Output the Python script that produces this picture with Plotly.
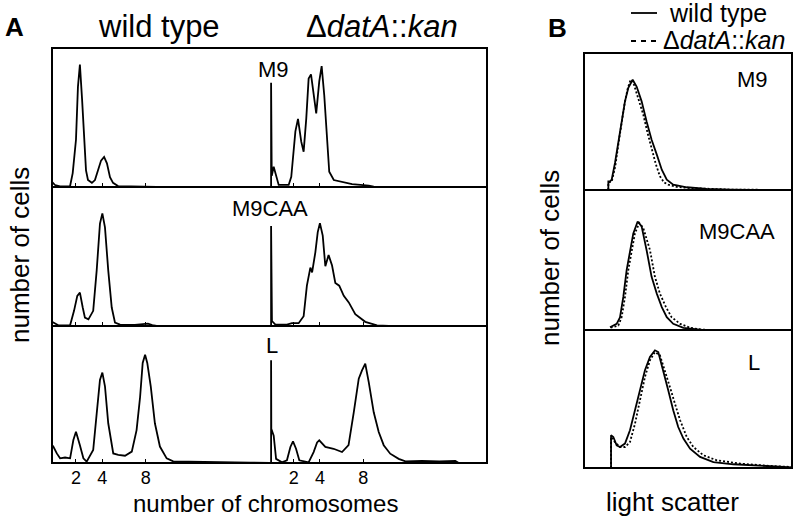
import plotly.graph_objects as go

# ---------------- DATA ----------------
# Panel A: DNA content histograms, x in relative channel units (0-100), y relative counts (0-100)
wt_m9_x = [0, 1.4, 3.7, 8.3, 9.5, 11, 11.9, 12.8, 13.8, 14.7, 15.6, 16.5, 18.3, 19.7, 21.1, 22.5, 23.9, 25.2, 26.6, 28, 30.3, 35, 40, 45, 48, 100]
wt_m9_y = [3.6, 1.4, 0.4, 0.7, 10, 34, 72, 88, 63, 32, 12, 5, 3, 5, 12, 19, 21.6, 17, 7, 3, 0.7, 0.5, 0.8, 0.5, 0, 0]

mu_m9_x = [0.5, 0.5, 0.8, 1.7, 3.2, 4, 8.6, 9.8, 11.7, 12.9, 14.4, 15.5, 16.7, 17.8, 18.9, 20.1, 21.3, 22.7, 23.8, 25, 26.3, 27.3, 29.4, 33.2, 37.8, 45.5, 47.8, 100]
mu_m9_y = [0, 75, 8, 14.6, 6.5, 1.5, 1.5, 7.4, 40, 49, 32.6, 25.4, 49, 78, 81, 66, 53, 76, 87, 66, 32.6, 11, 5, 3.4, 2, 1, 0.3, 0]

wt_caa_x = [0, 0.6, 2.9, 8.3, 10.1, 11.6, 12.8, 14.1, 15.1, 16.7, 18.9, 20.5, 22, 23.1, 24.3, 25.8, 27.4, 28.9, 31.2, 38, 44, 46, 48, 100]
wt_caa_y = [3, 2.4, 0.5, 0.5, 10.9, 21.7, 24, 13.3, 6, 4.8, 10.9, 40, 73.7, 81, 71, 40, 13.3, 2.4, 1, 0.8, 1.7, 0.6, 0, 0]

mu_caa_x = [0.5, 0.5, 0.9, 2.5, 7.8, 10.1, 13.2, 15.5, 17, 18.6, 19.4, 20.9, 22, 23, 24.3, 25.5, 27, 28.6, 30.1, 31.9, 34, 36.3, 39.3, 43.9, 49.3, 54.7, 100]
mu_caa_y = [0, 72, 3.6, 1, 1, 2, 2, 7, 29, 42, 38.6, 53, 67.6, 74, 65, 43, 51, 43.5, 31, 29, 21.7, 17, 8.5, 3, 0.5, 0, 0]

wt_l_x = [0, 0.6, 2.2, 3.7, 6, 8.3, 9.8, 11, 12.8, 14.4, 15.9, 18.9, 20.5, 22, 23.1, 24.3, 25.8, 28.1, 30.4, 33.5, 36.6, 38.8, 40.4, 41.6, 42.7, 43.7, 45.3, 47.2, 49.5, 52.6, 55.6, 70, 87.7, 91, 100]
wt_l_y = [13, 12, 7, 3.4, 4, 3.4, 16.8, 22.8, 13, 3.4, 1, 9.5, 36, 60.6, 66, 56, 29, 7, 6, 5.3, 8.3, 24, 48, 73, 79, 73, 56, 29, 12, 3.4, 1.2, 1, 0.8, 0.3, 0]

mu_l_x = [0.5, 0.5, 0.6, 1.7, 2.8, 5.5, 7.8, 9.4, 10.6, 12, 13.5, 17.8, 20.1, 21.7, 22.7, 25.5, 29.3, 33.2, 36.2, 38.6, 40.9, 42.4, 43.9, 45.5, 47.8, 50.1, 52.4, 55.4, 59.3, 62.4, 70, 78, 85.4, 87, 100]
mu_l_y = [0, 75, 25, 20, 3, 0.5, 2, 11.7, 15.8, 10.4, 2, 0.5, 8, 15, 16.5, 11.7, 10.4, 8, 13, 37, 61.5, 67.6, 72.5, 59, 37, 22.6, 13, 6.8, 3, 1.2, 1.5, 1.2, 1.5, 0, 0]

chrom_tickvals = [11, 23, 43]
chrom_ticktext = ["2", "4", "8"]

# Panel B: light scatter histograms
b_m9_wt_x = [11.7, 11.7, 12.5, 13.3, 14.9, 16.5, 18.1, 19.7, 21.3, 23.4, 25.3, 27.7, 30.1, 32.5, 35, 37.4, 39.8, 42.9, 49.4, 59, 70.2, 80, 100]
b_m9_wt_y = [0, 6.3, 6.3, 7.5, 19.7, 35.5, 50, 64.7, 74.5, 80.5, 75.5, 64.7, 50, 36.7, 25.8, 14.8, 7.5, 3.9, 2, 0.8, 0.3, 0, 0]
b_m9_mu_x = [11.7, 11.7, 13.3, 15, 16.5, 18, 19.5, 21, 22.4, 24, 26, 28.5, 30.5, 32.5, 34.5, 36.5, 38.5, 40.5, 45, 50, 58, 70, 100]
b_m9_mu_y = [0, 5.5, 6, 17, 33, 49, 63, 74, 80.5, 77, 67, 55, 42, 30.6, 19, 10, 5.5, 3.9, 2.2, 1.5, 0.8, 0.3, 0]

b_caa_wt_x = [12.5, 15.7, 17.3, 18.9, 20.5, 22.1, 23.7, 25.8, 27.7, 30.1, 32.5, 35, 37.4, 39.8, 42.9, 47.8, 52.6, 57, 100]
b_caa_wt_y = [2, 4.4, 9, 23.6, 42.8, 57, 69, 77.5, 74, 57, 38, 26, 16.4, 9.2, 4.4, 1.5, 0.5, 0, 0]
b_caa_mu_x = [12.8, 16.5, 18.1, 19.7, 21.3, 22.9, 24.5, 26.6, 28.5, 31.7, 34.1, 36.5, 39.4, 42.1, 46.2, 51, 55.8, 60.6, 100]
b_caa_mu_y = [1.6, 3.2, 9.2, 23.6, 42.8, 57.2, 69.2, 76.4, 72.8, 57.2, 38, 26, 16.4, 9.2, 4.4, 1.6, 0.4, 0, 0]

b_l_wt_x = [13, 13, 14.1, 15.7, 17.3, 19.7, 22.1, 24.5, 26.9, 29.3, 31.7, 34.1, 35.7, 38.1, 40.5, 42.9, 45.3, 47.8, 51, 55.8, 62.2, 71.8, 83, 94, 100]
b_l_wt_y = [0, 23.7, 22.5, 16.4, 15.2, 17.7, 27.3, 41.8, 56.3, 70.8, 80.4, 85.3, 84, 70.8, 56.3, 41.8, 29.7, 21.3, 14, 8, 4.3, 2.7, 1.7, 0.8, 0.5]
b_l_mu_x = [13, 13, 14.9, 17.3, 19.7, 22.1, 24.5, 26.9, 29.3, 31.7, 34.1, 36.5, 38.9, 41.3, 43.7, 46.2, 49.4, 52.6, 57.4, 63.8, 75, 91, 100]
b_l_mu_y = [0, 22.5, 18.8, 15.2, 15.2, 18.8, 32, 49, 66, 78, 84, 81.7, 70.8, 58.7, 46.7, 34.6, 22.5, 15.2, 9.2, 5.6, 3.2, 1.3, 0.8]

row_labels = ["M9", "M9CAA", "L"]

# ---------------- LAYOUT ----------------
W, H = 800, 518
FONT = "Liberation Sans, Arial, Helvetica, sans-serif"


def px(x):
    return x / W


def py(y):
    return 1 - y / H


A_L, A_MID, A_R = 52, 270, 487
A_ROWS = [(48, 187), (187, 326), (326, 463)]
B_L, B_R = 584, 792
B_ROWS = [(53, 190), (190, 330), (330, 468)]

fig = go.Figure()
LW = 1.8
solid = dict(color="black", width=LW)
dotted = dict(color="black", width=LW, dash="2px,2px")

a_data = [
    (wt_m9_x, wt_m9_y, mu_m9_x, mu_m9_y),
    (wt_caa_x, wt_caa_y, mu_caa_x, mu_caa_y),
    (wt_l_x, wt_l_y, mu_l_x, mu_l_y),
]
b_data = [
    (b_m9_wt_x, b_m9_wt_y, b_m9_mu_x, b_m9_mu_y),
    (b_caa_wt_x, b_caa_wt_y, b_caa_mu_x, b_caa_mu_y),
    (b_l_wt_x, b_l_wt_y, b_l_mu_x, b_l_mu_y),
]

layout_axes = {}
n = 0
for i, (top, bot) in enumerate(A_ROWS):
    for j, (xs, ys) in enumerate([(a_data[i][0], a_data[i][1]), (a_data[i][2], a_data[i][3])]):
        n += 1
        sfx = "" if n == 1 else str(n)
        fig.add_trace(go.Scatter(x=xs, y=ys, mode="lines", line=solid,
                                 xaxis="x" + sfx, yaxis="y" + sfx, showlegend=False,
                                 hoverinfo="skip"))
        dom_x = [px(A_L), px(A_MID)] if j == 0 else [px(A_MID), px(A_R)]
        layout_axes["xaxis" + sfx] = dict(
            domain=dom_x, range=[0, 100], anchor="y" + sfx, showgrid=False, zeroline=False,
            showline=False, ticks="inside", ticklen=4, tickwidth=1.2, tickcolor="black",
            tickvals=chrom_tickvals, ticktext=chrom_ticktext,
            showticklabels=(i == 2), ticklabelstandoff=2,
            tickfont=dict(family=FONT, size=18, color="black"), fixedrange=True)
        layout_axes["yaxis" + sfx] = dict(
            domain=[py(bot), py(top)], range=[0, 100], anchor="x" + sfx, visible=False,
            fixedrange=True)

for i, (top, bot) in enumerate(B_ROWS):
    n += 1
    sfx = str(n)
    wx, wy, mx, my = b_data[i]
    fig.add_trace(go.Scatter(x=mx, y=my, mode="lines", line=dotted, xaxis="x" + sfx,
                             yaxis="y" + sfx, showlegend=False, hoverinfo="skip"))
    fig.add_trace(go.Scatter(x=wx, y=wy, mode="lines", line=solid, xaxis="x" + sfx,
                             yaxis="y" + sfx, showlegend=False, hoverinfo="skip"))
    layout_axes["xaxis" + sfx] = dict(domain=[px(B_L), px(B_R)], range=[0, 100],
                                      anchor="y" + sfx, visible=False, fixedrange=True)
    layout_axes["yaxis" + sfx] = dict(domain=[py(bot), py(top)], range=[0, 100],
                                      anchor="x" + sfx, visible=False, fixedrange=True)

# frames
shapes = []
box = dict(color="black", width=2)
shapes.append(dict(type="rect", xref="paper", yref="paper", x0=px(A_L), x1=px(A_R),
                   y0=py(A_ROWS[2][1]), y1=py(A_ROWS[0][0]), line=box))
for top, bot in A_ROWS[:-1]:
    shapes.append(dict(type="line", xref="paper", yref="paper", x0=px(A_L), x1=px(A_R),
                       y0=py(bot), y1=py(bot), line=box))
shapes.append(dict(type="rect", xref="paper", yref="paper", x0=px(B_L), x1=px(B_R),
                   y0=py(B_ROWS[2][1]), y1=py(B_ROWS[0][0]), line=box))
for top, bot in B_ROWS[:-1]:
    shapes.append(dict(type="line", xref="paper", yref="paper", x0=px(B_L), x1=px(B_R),
                       y0=py(bot), y1=py(bot), line=box))
# legend samples
shapes.append(dict(type="line", xref="paper", yref="paper", x0=px(631), x1=px(657),
                   y0=py(13), y1=py(13), line=dict(color="black", width=1.8)))
shapes.append(dict(type="line", xref="paper", yref="paper", x0=px(631), x1=px(659),
                   y0=py(41), y1=py(41), line=dict(color="black", width=1.8, dash="5px,5px")))


def ann(text, x, y, size, xanchor="center", yanchor="middle", angle=0, bold=False):
    if bold:
        text = "<b>" + text + "</b>"
    return dict(text=text, x=px(x), y=py(y), xref="paper", yref="paper", showarrow=False,
                xanchor=xanchor, yanchor=yanchor, textangle=angle, borderpad=0,
                font=dict(family=FONT, size=size, color="black"))


annotations = [
    ann("A", 14, 27, 26, bold=True),
    ann("B", 557, 28, 26, bold=True),
    ann("wild type", 159, 26, 31),
    ann("Δ<i>datA</i>::<i>kan</i>", 382, 26, 31),
    ann("number of cells", 20, 255, 26, angle=-90),
    ann("number of cells", 550, 258, 26, angle=-90),
    ann("number of chromosomes", 265, 518, 24, yanchor="bottom"),
    ann("light scatter", 672, 518, 26, yanchor="bottom"),
    ann("wild type", 668, 13, 25, xanchor="left"),
    ann("Δ<i>datA</i>::<i>kan</i>", 662, 40, 25, xanchor="left"),
    ann(row_labels[0], 273, 69, 22),
    ann(row_labels[1], 270, 208, 22),
    ann(row_labels[2], 272, 345, 22),
    ann(row_labels[0], 752, 79, 22),
    ann(row_labels[1], 737, 231, 22),
    ann(row_labels[2], 754, 362, 22),
]

fig.update_layout(width=W, height=H, margin=dict(l=0, r=0, t=0, b=0),
                  paper_bgcolor="white", plot_bgcolor="white", showlegend=False,
                  shapes=shapes, annotations=annotations, **layout_axes)

# remove the default page margin so the figure fills the window exactly
fig.write_html("out.html", config={"displayModeBar": False},
               post_script="document.documentElement.style.margin='0';"
                           "document.body.style.margin='0';"
                           "document.body.style.overflow='hidden';")
